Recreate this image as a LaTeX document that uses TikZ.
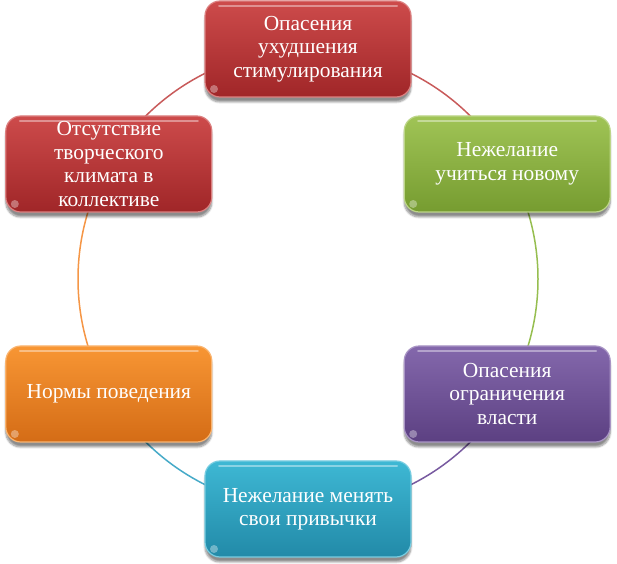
\documentclass[tikz,border=0pt]{standalone}
\usepackage{fontspec}
\setmainfont{Liberation Serif}
\usetikzlibrary{calc,shadows.blur,backgrounds}
\definecolor{rTop}{RGB}{205,75,75}
\definecolor{rBot}{RGB}{160,38,40}
\definecolor{rLine}{RGB}{200,90,90}
\definecolor{gTop}{RGB}{160,196,86}
\definecolor{gBot}{RGB}{118,156,48}
\definecolor{gLine}{RGB}{150,190,80}
\definecolor{pTop}{RGB}{132,104,172}
\definecolor{pBot}{RGB}{92,64,130}
\definecolor{pLine}{RGB}{120,90,160}
\definecolor{bTop}{RGB}{62,184,212}
\definecolor{bBot}{RGB}{34,138,168}
\definecolor{bLine}{RGB}{70,170,200}
\definecolor{oTop}{RGB}{248,150,52}
\definecolor{oBot}{RGB}{212,108,22}
\definecolor{oLine}{RGB}{245,150,70}
\tikzset{
  x=1bp, y=1bp,
  box/.style n args={2}{rounded corners=15bp, minimum width=206bp, minimum height=96bp,
    top color=#1, bottom color=#2, draw=#1!70!white, line width=1.2bp,
    text=white, align=center, inner sep=0pt,
    font=\fontsize{21.5}{23.5}\selectfont,
    blur shadow={shadow xshift=0bp, shadow yshift=-5bp, shadow blur steps=8, shadow opacity=45},
    path picture={
      \draw[white, opacity=0.4, line width=2bp, line cap=round]
        ([xshift=14bp,yshift=-5bp]path picture bounding box.north west) --
        ([xshift=-14bp,yshift=-5bp]path picture bounding box.north east);
      \fill[white, opacity=0.35]
        ([xshift=9bp,yshift=8bp]path picture bounding box.south west) circle[radius=4bp];
    }},
  ring/.style={line width=1.5bp}
}
\begin{document}
\begin{tikzpicture}
\useasboundingbox (0,0) rectangle (617,564);
\coordinate (c) at (308,285);
\node[box={rTop}{rBot}] (top) at ($(c)+(90:230)$) {Опасения\\ухудшения\\стимулирования};
\node[box={gTop}{gBot}] (green) at ($(c)+(30:230)$) {Нежелание\\учиться новому};
\node[box={pTop}{pBot}] (purple) at ($(c)+(-30:230)$) {Опасения\\ограничения\\власти};
\node[box={bTop}{bBot}] (blue) at ($(c)+(-90:230)$) {Нежелание менять\\свои привычки};
\node[box={oTop}{oBot}] (orange) at ($(c)+(210:230)$) {Нормы поведения};
\node[box={rTop}{rBot}] (left) at ($(c)+(150:230)$) {Отсутствие\\творческого\\климата в\\коллективе};
\begin{scope}[on background layer]
\draw[ring, rLine] (top.center) arc[start angle=90, end angle=30, radius=230];
\draw[ring, gLine] (green.center) arc[start angle=30, end angle=-30, radius=230];
\draw[ring, pLine] (purple.center) arc[start angle=-30, end angle=-90, radius=230];
\draw[ring, bLine] (blue.center) arc[start angle=-90, end angle=-150, radius=230];
\draw[ring, oLine] (orange.center) arc[start angle=210, end angle=150, radius=230];
\draw[ring, rLine] (left.center) arc[start angle=150, end angle=90, radius=230];
\end{scope}
\end{tikzpicture}
\end{document}
